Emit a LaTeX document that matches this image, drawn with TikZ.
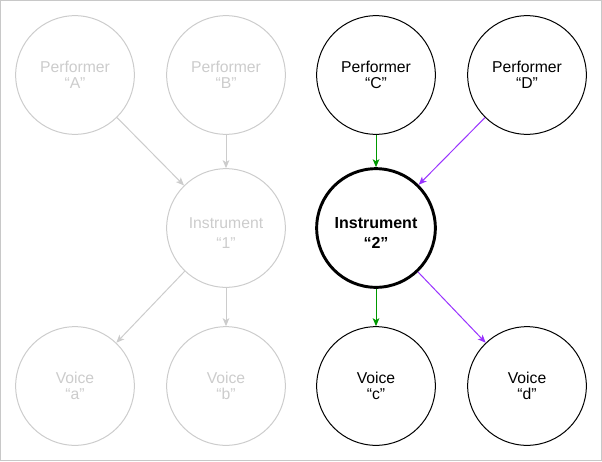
\documentclass[tikz,border=0pt]{standalone}
\usepackage{fontspec}
\setmainfont{Liberation Sans}
\usetikzlibrary{arrows.meta}
\definecolor{ghostgray}{HTML}{CCCCCC}
\definecolor{framegray}{HTML}{C8C8C8}
\definecolor{flowgreen}{HTML}{009900}
\definecolor{flowpurple}{HTML}{9933FF}
\newcommand{\lowgap}{\rule{0pt}{16pt}}
\tikzset{
	role/.style={circle, draw, line width=0.75pt, minimum size=89pt, inner sep=0pt,
		align=center, font=\fontsize{11.8}{12.4}\selectfont},
	ghost/.style={role, draw=ghostgray, text=ghostgray},
	live/.style={role, draw=black, text=black},
	focus/.style={live, line width=2.2pt, font=\fontsize{12}{15}\selectfont\bfseries},
	flow/.style={line width=0.75pt, -{Stealth[length=6pt,width=5pt,inset=1.5pt]}},
}

\begin{document}
\begin{tikzpicture}[x=0.75pt,y=-0.75pt]
	% frame
	\draw[framegray, line width=0.75pt] (0.5,0.5) rectangle (601.5,460.5);
	\useasboundingbox (0,0) rectangle (602,461);
	
	% left group (faded)
	\node[ghost] (pa) at (75,75) {Performer\\“A”};
	\node[ghost] (pb) at (226,75) {Performer\\“B”};
	\node[ghost, font=\fontsize{11.8}{15}\selectfont] (i1) at (226,228) {\lowgap Instrument\\“1”};
	\node[ghost] (va) at (75,386) {Voice\\“a”};
	\node[ghost] (vb) at (226,386) {Voice\\“b”};
	
	% right group
	\node[live] (pc) at (376,75) {Performer\\“C”};
	\node[live] (pd) at (527,75) {Performer\\“D”};
	\node[focus] (i2) at (376,228) {\lowgap Instrument\\“2”};
	\node[live] (vc) at (376,386) {Voice\\“c”};
	\node[live] (vd) at (527,386) {Voice\\“d”};
	
	\draw[flow, ghostgray] (pa) -- (i1);
	\draw[flow, ghostgray] (pb) -- (i1);
	\draw[flow, ghostgray] (i1) -- (va);
	\draw[flow, ghostgray] (i1) -- (vb);
	
	\draw[flow, flowgreen] (pc) -- (i2);
	\draw[flow, flowpurple] (pd) -- (i2);
	\draw[flow, flowgreen] (i2) -- (vc);
	\draw[flow, flowpurple] (i2) -- (vd);
\end{tikzpicture}
\end{document}
